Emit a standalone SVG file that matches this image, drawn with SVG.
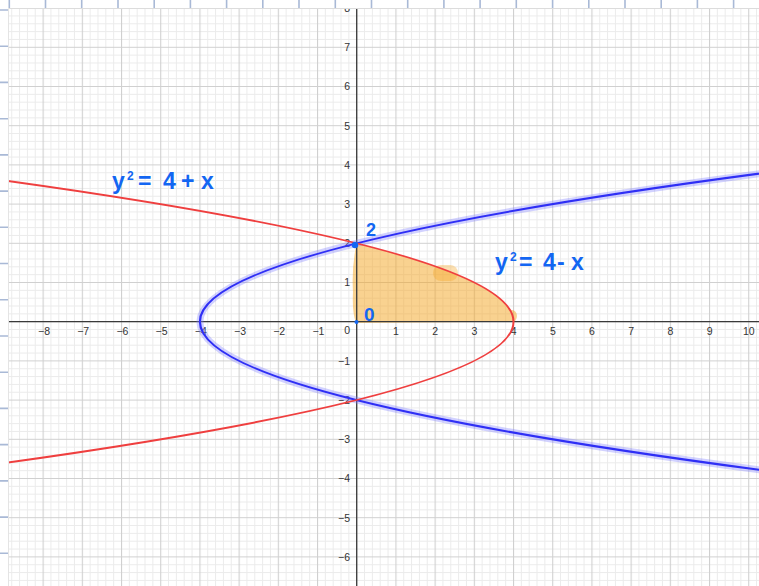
<svg xmlns="http://www.w3.org/2000/svg" width="759" height="586" viewBox="0 0 759 586">
<style>
.tx{font-family:"Liberation Sans",Arial,sans-serif;font-size:10.5px;fill:#333;text-anchor:middle}
.ty{font-family:"Liberation Sans",Arial,sans-serif;font-size:10.5px;fill:#333;text-anchor:end}
.hand{font-family:"Liberation Sans",Arial,sans-serif;font-weight:bold;fill:#1366f2}
.ruler{stroke:#a9b9d6;stroke-width:1.6}
</style>
<defs>
<pattern id="grid" patternUnits="userSpaceOnUse" x="356.2" y="321.2" width="39.2" height="39.2">
<path d="M8.34 0V39.2M16.18 0V39.2M24.02 0V39.2M31.86 0V39.2M0 8.34H39.2M0 16.18H39.2M0 24.02H39.2M0 31.86H39.2" stroke="#ebebeb" stroke-width="1" fill="none"/>
<path d="M0.5 0V39.2M0 0.5H39.2" stroke="#d0d0d0" stroke-width="1.2" fill="none"/>
</pattern>
<clipPath id="plot"><rect x="8.5" y="9" width="750.5" height="577"/></clipPath>
</defs>
<rect width="759" height="586" fill="#fff"/>
<g id="grid-area" clip-path="url(#plot)">
<rect x="8.5" y="9" width="750.5" height="577" fill="url(#grid)"/>
<g id="shade" opacity="0.5" fill="#f5a623">
<path d="M356.7,243.3 Q513.5,282.5 513.5,321.7 L356,323 Q352,312 353,292 Q351.5,266 356.7,243.3 Z"/>
<ellipse cx="512" cy="316" rx="5" ry="6"/>
</g>
<rect x="433" y="265" width="25" height="16" rx="8" fill="#f5a623" opacity="0.35"/>
<g id="axes" stroke="#3a3a3a" stroke-width="1.3">
<line x1="8.5" y1="321.7" x2="759" y2="321.7"/>
<line x1="356.7" y1="0" x2="356.7" y2="586"/>
</g>
<g id="xlabels" class="tx">
<text x="44" y="335">−8</text><text x="83.2" y="335">−7</text><text x="122.4" y="335">−6</text><text x="161.6" y="335">−5</text><text x="200.8" y="335">−4</text><text x="240" y="335">−3</text><text x="279.2" y="335">−2</text><text x="318.4" y="335">−1</text>
<text x="396" y="335">1</text><text x="435.2" y="335">2</text><text x="474.4" y="335">3</text><text x="513.6" y="335">4</text><text x="552.8" y="335">5</text><text x="592" y="335">6</text><text x="631.2" y="335">7</text><text x="670.4" y="335">8</text><text x="709.6" y="335">9</text><text x="748.8" y="335">10</text>
</g>
<g id="ylabels" class="ty">
<text x="350" y="334">0</text>
<text x="350" y="12">8</text><text x="350" y="51.2">7</text><text x="350" y="90.4">6</text><text x="350" y="129.6">5</text><text x="350" y="168.8">4</text><text x="350" y="208">3</text><text x="350" y="247.2">2</text><text x="350" y="286.4">1</text>
<text x="350" y="364.8">−1</text><text x="350" y="404">−2</text><text x="350" y="443.2">−3</text><text x="350" y="482.4">−4</text><text x="350" y="521.6">−5</text><text x="350" y="560.8">−6</text>
</g>
<g id="curves" fill="none">
<path id="blue-halo" d="M796.13,168.82 Q-396.33,321.7 796.13,474.58" stroke="#7f7fff" stroke-opacity="0.35" stroke-width="7"/>
<path id="blue" d="M796.13,168.82 Q-396.33,321.7 796.13,474.58" stroke="#2f2ff5" stroke-width="2.2"/>
<path id="red" d="M-23.15,176.66 Q1050.15,321.7 -23.15,466.74" stroke="#ef3f3f" stroke-width="2"/>
</g>
</g>
<g id="ruler">
<line x1="8.5" y1="8.5" x2="759" y2="8.5" stroke="#dcdcdc" stroke-width="1"/>
<line x1="8.5" y1="8.5" x2="8.5" y2="586" stroke="#e4e4e4" stroke-width="1"/>
<path class="ruler" d="M9.3 0V8M45.5 0V8M81.7 0V8M118 0V8M154.2 0V8M190.4 0V8M226.6 0V8M262.8 0V8M299 0V8M335.3 0V8M371.5 0V8M407.7 0V8M443.9 0V8M480.1 0V8M516.3 0V8M552.6 0V8M588.8 0V8M625 0V8M661.2 0V8M697.4 0V8M733.6 0V8"/>
<path class="ruler" stroke-width="2" d="M0 10H8M0 46.2H8M0 82.4H8M0 118.7H8M0 154.9H8M0 191.1H8M0 227.3H8M0 263.5H8M0 299.8H8M0 336H8M0 372.2H8M0 408.4H8M0 444.6H8M0 480.9H8M0 517.1H8M0 553.3H8"/>
</g>
<g id="annotations">
<text class="hand" font-size="23" y="189"><tspan x="112">y</tspan><tspan x="127" y="180" font-size="12">2</tspan><tspan x="138" y="189">=</tspan><tspan x="163">4</tspan><tspan x="181">+</tspan><tspan x="201">x</tspan></text>
<text class="hand" font-size="23" y="270"><tspan x="495">y</tspan><tspan x="510" y="261" font-size="12">2</tspan><tspan x="519" y="270">=</tspan><tspan x="543">4</tspan><tspan x="557">-</tspan><tspan x="571">x</tspan></text>
<text class="hand" font-size="18" x="366" y="236">2</text>
<text class="hand" font-size="19" x="364" y="321">0</text>
<circle cx="355" cy="245" r="3.2" fill="#1366f2"/>
<circle cx="356.5" cy="322" r="2" fill="#1366f2"/>
</g>
</svg>
